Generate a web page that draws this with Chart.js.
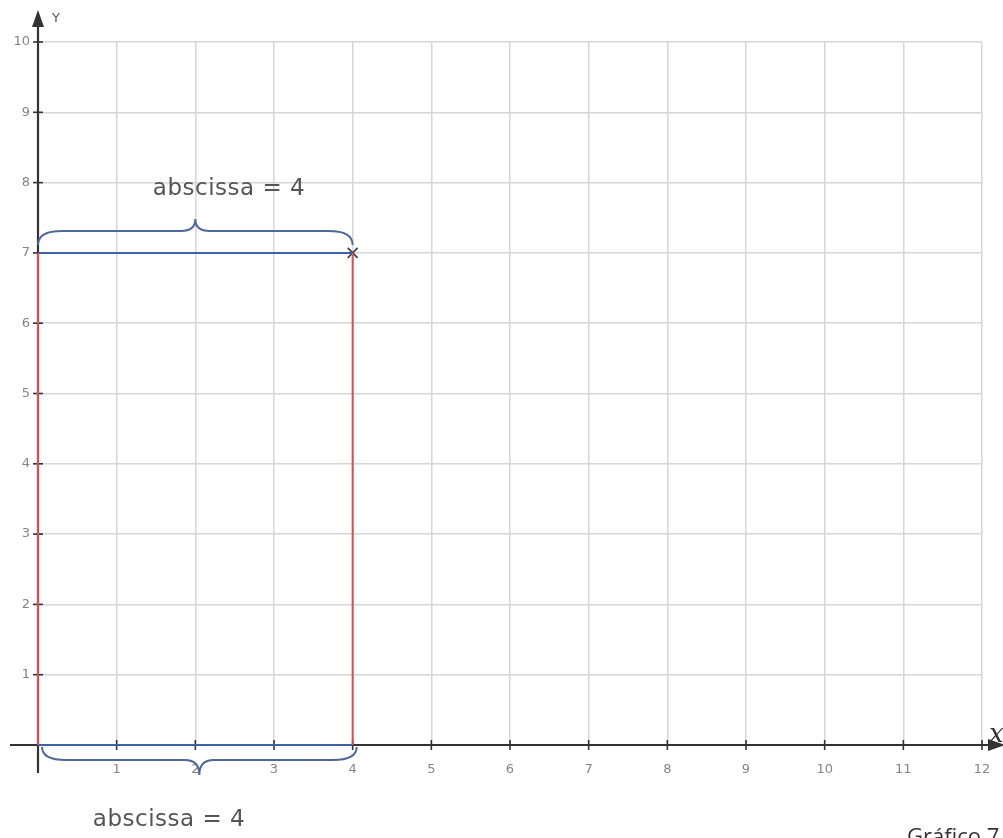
<!DOCTYPE html>
<html>
<head>
<meta charset="utf-8">
<script src="https://cdn.jsdelivr.net/npm/chart.js@4"></script>
<style>
html, body { margin: 0; padding: 0; background: #fff; }
#wrap { width: 1003px; height: 838px; position: relative; }
</style>
</head>
<body>
<div id="wrap"><canvas id="chart"></canvas></div>
<script>
// axis ranges and ticks
const xTicks = [0, 1, 2, 3, 4, 5, 6, 7, 8, 9, 10, 11, 12];
const yTicks = [0, 1, 2, 3, 4, 5, 6, 7, 8, 9, 10];
// the marked point
const pointX = [4];
const pointY = [7];
// texts
const braceText = 'abscissa = 4';
const captionText = 'Gráfico 7';

const red = '#e04c4c';
const blue = '#3d61a6';
const braceColor = '#4f6899';
const axisColor = '#333';

const px = pointX[0], py = pointY[0];

function seg(x1, y1, x2, y2) { return [{ x: x1, y: y1 }, { x: x2, y: y2 }]; }

function drawBrace(ctx, x1, x2, y0, dir, h, p, r) {
    const xm = (x1 + x2) / 2;
    const yh = y0 + dir * h;
    ctx.beginPath();
    ctx.moveTo(x1, y0);
    ctx.quadraticCurveTo(x1, yh, x1 + r, yh);
    ctx.lineTo(xm - r * 0.6, yh);
    ctx.quadraticCurveTo(xm, yh, xm, yh + dir * p);
    ctx.quadraticCurveTo(xm, yh, xm + r * 0.6, yh);
    ctx.lineTo(x2 - r, yh);
    ctx.quadraticCurveTo(x2, yh, x2, y0);
    ctx.stroke();
}

const axesPlugin = {
    id: 'axes',
    beforeDatasetsDraw(chart) {
        const { ctx, scales: { x, y } } = chart;
        const x0 = x.getPixelForValue(0);
        const y0 = y.getPixelForValue(0);
        const W = chart.width;
        ctx.save();
        ctx.strokeStyle = axisColor;
        ctx.fillStyle = axisColor;
        ctx.lineWidth = 2.2;
        // y axis
        ctx.beginPath();
        ctx.moveTo(x0, y0 + 28);
        ctx.lineTo(x0, 22);
        ctx.stroke();
        ctx.beginPath();
        ctx.moveTo(x0, 10);
        ctx.lineTo(x0 - 6, 27);
        ctx.lineTo(x0 + 6, 27);
        ctx.closePath();
        ctx.fill();
        // x axis
        ctx.beginPath();
        ctx.moveTo(10, y0);
        ctx.lineTo(W - 10, y0);
        ctx.stroke();
        ctx.beginPath();
        ctx.moveTo(W + 2, y0);
        ctx.lineTo(W - 15, y0 - 6);
        ctx.lineTo(W - 15, y0 + 6);
        ctx.closePath();
        ctx.fill();
        // tick marks
        ctx.lineWidth = 1.6;
        xTicks.forEach(v => {
            const p = x.getPixelForValue(v);
            ctx.beginPath();
            ctx.moveTo(p, y0 - 5);
            ctx.lineTo(p, y0 + 5);
            ctx.stroke();
        });
        yTicks.forEach(v => {
            const p = y.getPixelForValue(v);
            ctx.beginPath();
            ctx.moveTo(x0 - 5, p);
            ctx.lineTo(x0 + 5, p);
            ctx.stroke();
        });
        ctx.restore();
    },
    afterDatasetsDraw(chart) {
        const { ctx, scales: { x, y } } = chart;
        const x0 = x.getPixelForValue(0);
        const x4 = x.getPixelForValue(px);
        const y0 = y.getPixelForValue(0);
        const y7 = y.getPixelForValue(py);
        ctx.save();
        ctx.strokeStyle = braceColor;
        ctx.lineWidth = 2;
        drawBrace(ctx, x0, x4, y7 - 8, -1, 14, 12, 24);
        drawBrace(ctx, x0 + 4, x4 + 4, y0 + 2, 1, 13, 15, 24);

        ctx.fillStyle = '#555';
        ctx.font = '23px "DejaVu Sans"';
        ctx.textAlign = 'center';
        ctx.textBaseline = 'alphabetic';
        ctx.letterSpacing = '0.5px';
        ctx.fillText(braceText, 229, 195);
        ctx.fillText(braceText, 169, 826);
        ctx.letterSpacing = '0px';

        // axis names
        ctx.font = '13px "DejaVu Sans"';
        ctx.textAlign = 'left';
        ctx.fillStyle = '#555';
        ctx.fillText('Y', 52, 22);
        ctx.font = 'italic 26px "DejaVu Serif"';
        ctx.fillStyle = '#333';
        ctx.fillText('x', 989, 742);

        // caption
        ctx.font = '22px "Open Sans"';
        ctx.fillStyle = '#333';
        ctx.fillText(captionText, 907, 844);
        ctx.restore();
    }
};

const lineBase = { showLine: true, pointRadius: 0, borderWidth: 2, clip: false, fill: false };

new Chart(document.getElementById('chart'), {
    type: 'scatter',
    data: {
        datasets: [
            { ...lineBase, data: seg(0, 0, 0, py), borderColor: red },
            { ...lineBase, data: seg(px, 0, px, py), borderColor: red },
            { ...lineBase, data: seg(0, py, px, py), borderColor: blue },
            { ...lineBase, data: seg(0, 0, px, 0), borderColor: blue },
            {
                data: pointX.map((v, i) => ({ x: v, y: pointY[i] })),
                pointStyle: 'crossRot', pointRadius: 7, borderColor: '#444', borderWidth: 1.8, clip: false
            }
        ]
    },
    options: {
        responsive: true,
        maintainAspectRatio: false,
        animation: false,
        layout: { padding: { top: 42, right: 21, left: 0, bottom: 0 } },
        plugins: { legend: { display: false }, tooltip: { enabled: false } },
        scales: {
            x: {
                type: 'linear',
                min: xTicks[0],
                max: xTicks[xTicks.length - 1],
                afterBuildTicks: s => { s.ticks = xTicks.map(v => ({ value: v })); },
                afterFit: s => { s.height = 93; s.paddingLeft = 0; s.paddingRight = 0; },
                ticks: {
                    autoSkip: false, maxRotation: 0, padding: 17,
                    color: '#858585', font: { family: 'DejaVu Sans', size: 13 },
                    callback: v => v === 0 ? '' : String(v)
                },
                grid: { color: '#d6d6d6', lineWidth: 1.5, drawTicks: false },
                border: { display: false }
            },
            y: {
                type: 'linear',
                min: yTicks[0],
                max: yTicks[yTicks.length - 1],
                afterBuildTicks: s => { s.ticks = yTicks.map(v => ({ value: v })); },
                afterFit: s => { s.width = 38; s.paddingTop = 0; s.paddingBottom = 0; },
                ticks: {
                    autoSkip: false, padding: 8,
                    color: '#858585', font: { family: 'DejaVu Sans', size: 13 },
                    callback: v => v === 0 ? '' : String(v)
                },
                grid: { color: '#d6d6d6', lineWidth: 1.5, drawTicks: false },
                border: { display: false }
            }
        }
    },
    plugins: [axesPlugin]
});
</script>
</body>
</html>
